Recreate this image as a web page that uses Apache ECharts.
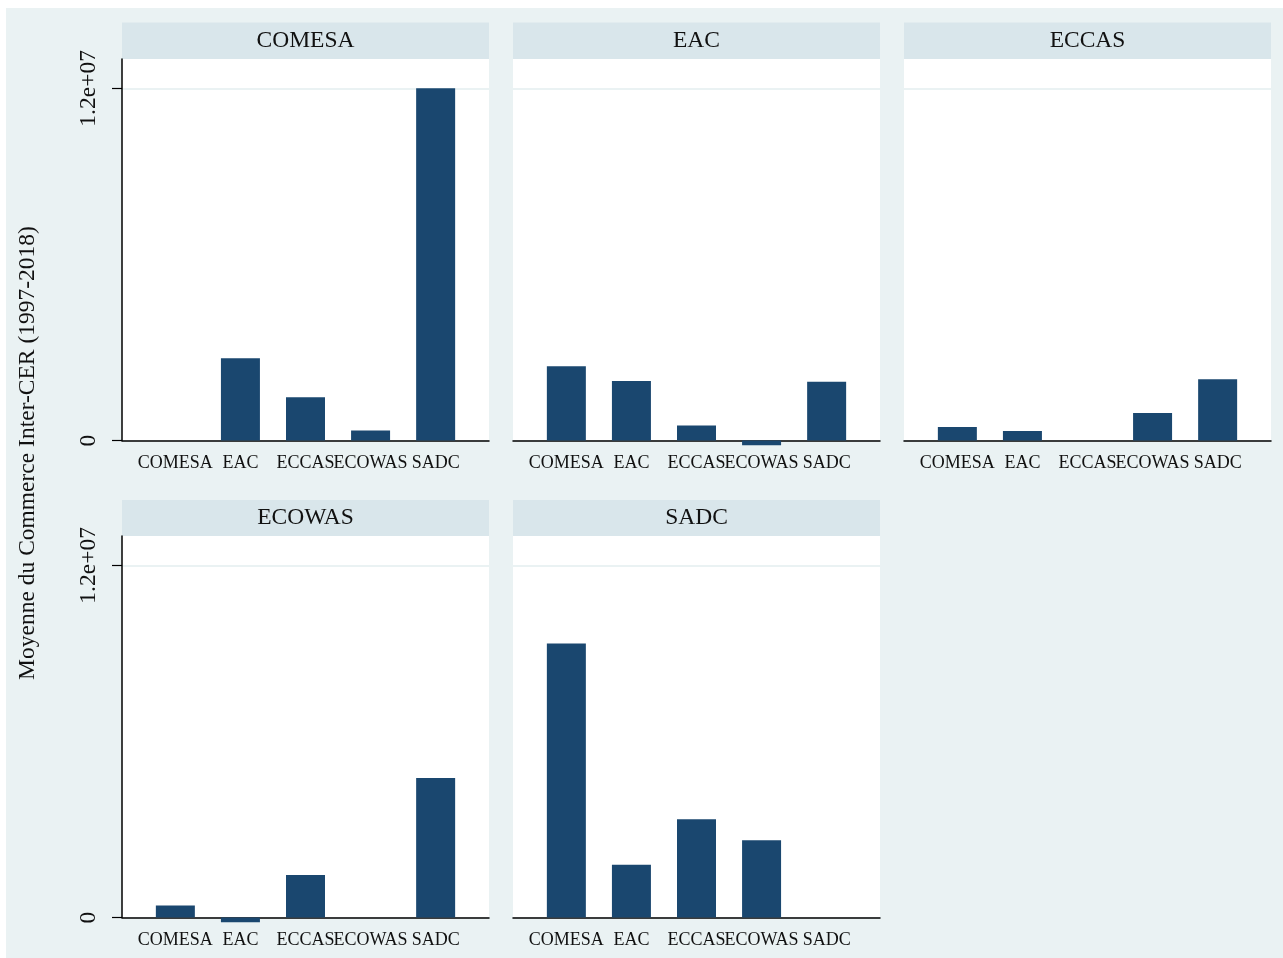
<!DOCTYPE html>
<html>
<head>
<meta charset="utf-8">
<script src="https://cdn.jsdelivr.net/npm/echarts@6/dist/echarts.min.js"></script>
<style>
  html, body { margin: 0; padding: 0; background: #ffffff; }
  #wrap { position: relative; width: 1283px; height: 958px; }
  #bg { position: absolute; left: 6px; top: 8px; width: 1277px; height: 950px; background: #eaf2f3; }
  #chart { position: absolute; left: 0; top: 0; width: 1283px; height: 958px; }
</style>
</head>
<body>
<div id="wrap"><div id="bg"></div><div id="chart"></div></div>
<script>
// ---- Data ----
const categories = ['COMESA', 'EAC', 'ECCAS', 'ECOWAS', 'SADC'];
const panelTitles = ['COMESA', 'EAC', 'ECCAS', 'ECOWAS', 'SADC'];
const valuesCOMESA = [0, 2800000, 1470000, 340000, 12000000];
const valuesEAC    = [2530000, 2030000, 510000, -160000, 2000000];
const valuesECCAS  = [460000, 320000, 0, 940000, 2090000];
const valuesECOWAS = [410000, -160000, 1450000, 0, 4750000];
const valuesSADC   = [9340000, 1800000, 3350000, 2630000, 0];
const yTickValues  = [0, 12000000];
const yTickLabels  = ['0', '1.2e+07'];
const yAxisTitle   = 'Moyenne du Commerce Inter-CER (1997-2018)';

const panelValues = [valuesCOMESA, valuesEAC, valuesECCAS, valuesECOWAS, valuesSADC];

// ---- Layout ----
const FONT = '"Liberation Serif", "Times New Roman", serif';
const colLeft = [122, 513, 904];
const panelW = 367;
const rowTop = [59, 536];
const plotH = 381.5;
const headerTop = [22.5, 500];
const headerH = [36.5, 36];
const BAR = '#1a476f';

const grids = [], xAxes = [], yAxes = [], series = [], graphics = [];

panelValues.forEach((vals, i) => {
  const col = i % 3, row = Math.floor(i / 3);
  grids.push({
    left: colLeft[col], top: rowTop[row], width: panelW, height: plotH,
    show: true, backgroundColor: '#ffffff', borderWidth: 0
  });
  xAxes.push({
    gridIndex: i, type: 'value', min: -0.82, max: 4.82,
    axisLine: { show: true, onZero: false, lineStyle: { color: '#000', width: 1.5 } },
    axisTick: { show: false },
    splitLine: { show: false },
    axisLabel: {
      show: true, customValues: [0, 1, 2, 3, 4],
      formatter: v => categories[Math.round(v)] || '',
      fontFamily: FONT, fontSize: 18, color: '#111', margin: 14
    }
  });
  const isLeft = col === 0;
  yAxes.push({
    gridIndex: i, type: 'value', min: 0, max: 13000000, interval: 4000000,
    axisLine: { show: isLeft, onZero: false, lineStyle: { color: '#000', width: 1.5 } },
    axisTick: { show: isLeft, customValues: yTickValues, length: 10, lineStyle: { color: '#000', width: 1.2 } },
    axisLabel: {
      show: isLeft, customValues: yTickValues, rotate: 90,
      formatter: v => yTickLabels[yTickValues.indexOf(v)] ?? '',
      fontFamily: FONT, fontSize: 23.5, color: '#111', margin: 21
    },
    splitLine: { show: true, lineStyle: { color: '#eaf2f3', width: 2 } }
  });
  series.push({
    type: 'bar', xAxisIndex: i, yAxisIndex: i, clip: false,
    barWidth: 39,
    data: vals.map((v, k) => [k, v]),
    itemStyle: { color: BAR },
    silent: true
  });
  graphics.push({
    type: 'rect', shape: { x: colLeft[col], y: headerTop[row], width: panelW, height: headerH[row] },
    style: { fill: '#d9e6eb' }
  });
  graphics.push({
    type: 'text', x: colLeft[col] + panelW / 2, y: headerTop[row] + headerH[row] / 2,
    style: { text: panelTitles[i], font: '23.5px ' + FONT, fill: '#111', align: 'center', verticalAlign: 'middle' }
  });
});

graphics.push({
  type: 'text', x: 28, y: 453, rotation: Math.PI / 2,
  style: { text: yAxisTitle, font: '23.5px ' + FONT, fill: '#111', align: 'center', verticalAlign: 'middle' }
});

const chart = echarts.init(document.getElementById('chart'), null, { renderer: 'canvas' });
chart.setOption({
  backgroundColor: 'transparent',
  animation: false,
  grid: grids, xAxis: xAxes, yAxis: yAxes, series: series,
  graphic: graphics
});
</script>
</body>
</html>
